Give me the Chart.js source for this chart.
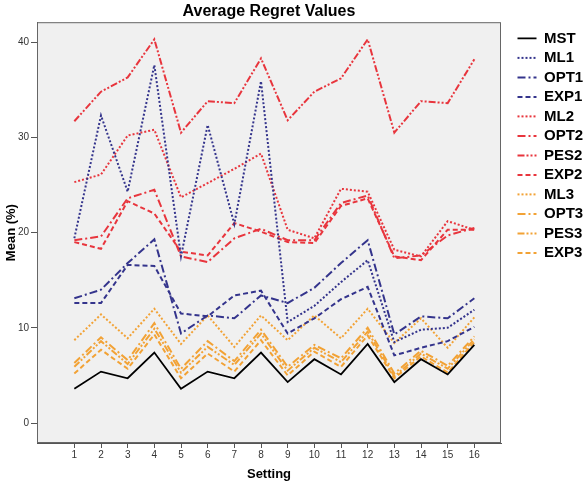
<!DOCTYPE html>
<html>
<head>
<meta charset="utf-8">
<script src="https://cdn.jsdelivr.net/npm/chart.js@4.4.1/dist/chart.umd.min.js"></script>
<style>
  html, body { margin: 0; padding: 0; background: #fff; }
  #wrap { width: 588px; height: 488px; }
</style>
</head>
<body>
<div id="wrap"><canvas id="regretChart" width="588" height="488"></canvas></div>
<script>
var settings = [1, 2, 3, 4, 5, 6, 7, 8, 9, 10, 11, 12, 13, 14, 15, 16];
var yTicks = [0, 10, 20, 30, 40];

var mst  = [3.6, 5.4, 4.7, 7.4, 3.6, 5.4, 4.7, 7.4, 4.3, 6.7, 5.1, 8.3, 4.3, 6.7, 5.1, 8.2];
var ml1  = [19.4, 32.3, 24.3, 37.6, 17.5, 31.3, 20.9, 35.9, 10.6, 12.3, 14.8, 17.1, 8.5, 9.8, 10.0, 11.9];
var opt1 = [13.1, 14.0, 16.8, 19.3, 9.4, 11.3, 11.0, 13.4, 12.6, 14.2, 16.8, 19.2, 9.3, 11.2, 11.0, 13.1];
var exp1 = [12.6, 12.6, 16.6, 16.5, 11.5, 11.2, 13.4, 13.9, 9.4, 11.0, 13.0, 14.3, 7.1, 7.9, 8.6, 10.1];
var ml2  = [25.3, 26.1, 30.2, 30.8, 23.7, 25.2, 26.7, 28.3, 20.3, 19.4, 24.6, 24.3, 18.2, 17.5, 21.2, 20.3];
var opt2 = [19.2, 19.6, 23.6, 24.5, 17.5, 16.9, 19.4, 20.4, 19.2, 19.2, 23.1, 23.9, 17.3, 17.6, 19.7, 20.5];
var pes2 = [31.7, 34.8, 36.3, 40.3, 30.5, 33.8, 33.6, 38.3, 31.8, 34.8, 36.2, 40.3, 30.5, 33.8, 33.6, 38.2];
var exp2 = [19.0, 18.3, 23.3, 22.0, 18.0, 17.6, 21.0, 20.1, 19.0, 18.9, 22.8, 23.6, 17.5, 17.1, 20.3, 20.3];
var ml3  = [8.7, 11.4, 8.9, 12.0, 8.3, 11.3, 8.0, 11.3, 8.7, 11.3, 8.9, 12.0, 8.4, 11.0, 7.9, 11.1];
var opt3 = [6.3, 9.0, 6.6, 10.5, 5.7, 8.6, 6.5, 9.8, 5.9, 8.2, 6.8, 10.0, 5.2, 7.6, 6.0, 9.1];
var pes3 = [5.9, 8.6, 6.2, 9.9, 5.3, 8.0, 6.1, 9.4, 5.5, 7.9, 6.4, 9.6, 4.9, 7.3, 5.7, 8.8];
var exp3 = [5.2, 7.7, 5.7, 9.3, 4.7, 7.3, 5.4, 8.7, 5.0, 7.5, 5.9, 9.2, 4.7, 7.0, 5.3, 8.5];

var FONT = "'Liberation Sans', Arial, sans-serif";
var BLUE = '#34348c', RED = '#e8353d', ORANGE = '#f2a235';
var DOT = [2, 2], DASHDOT = [8, 3, 2, 3], DASHDOTDOT = [7, 2, 2, 2, 2, 2], DASH = [5, 3];

function series(label, values, color, dash, width) {
	return {
		label: label,
		data: settings.map(function (s, i) { return { x: s, y: values[i] }; }),
		borderColor: color,
		backgroundColor: color,
		borderDash: dash,
		borderWidth: width || 2,
		pointRadius: 0,
		tension: 0,
		fill: false,
		yAxisID: 'y'
	};
}

// grey plot area with a frame, like the SPSS output
var plotBackground = {
	id: 'plotBackground',
	beforeDraw: function (chart) {
		var a = chart.chartArea, ctx = chart.ctx;
		ctx.save();
		ctx.fillStyle = '#f0f0f0';
		ctx.fillRect(a.left, a.top, a.right - a.left, a.bottom - a.top);
		ctx.restore();
	},
	beforeDatasetsDraw: function (chart) {
		var a = chart.chartArea, ctx = chart.ctx;
		ctx.save();
		ctx.strokeStyle = '#666';
		ctx.lineWidth = 1;
		ctx.strokeRect(a.left + 0.5, a.top + 0.5, a.right - a.left - 1, a.bottom - a.top - 1);
		ctx.restore();
	}
};

var ctx = document.getElementById('regretChart').getContext('2d');
var regretChart = new Chart(ctx, {
	type: 'line',
	data: {
		datasets: [
			series('MST', mst, '#000', [], 1.8),
			series('ML1', ml1, BLUE, DOT),
			series('OPT1', opt1, BLUE, DASHDOT),
			series('EXP1', exp1, BLUE, DASH),
			series('ML2', ml2, RED, DOT),
			series('OPT2', opt2, RED, DASHDOT),
			series('PES2', pes2, RED, DASHDOTDOT),
			series('EXP2', exp2, RED, DASH),
			series('ML3', ml3, ORANGE, DOT),
			series('OPT3', opt3, ORANGE, DASHDOT),
			series('PES3', pes3, ORANGE, DASHDOTDOT),
			series('EXP3', exp3, ORANGE, DASH)
		]
	},
	options: {
		responsive: false,
		animation: false,
		layout: { padding: 0 },
		scales: {
			x: {
				type: 'linear',
				min: -0.4,
				max: 17,
				afterBuildTicks: function (s) { s.ticks = settings.map(function (v) { return { value: v }; }); },
				grid: { drawOnChartArea: false, tickLength: 5, color: '#555' },
				border: { color: '#555' },
				ticks: { font: { size: 10, family: FONT }, color: '#333', padding: 1, maxRotation: 0, autoSkip: false },
				title: { display: true, text: 'Setting', color: '#000', font: { size: 13, weight: 'bold', family: FONT }, padding: { top: 6, bottom: 6 } },
				afterFit: function (s) { s.height = 45; }
			},
			y: {
				type: 'linear',
				position: 'left',
				min: -2.1,
				max: 42.1,
				afterBuildTicks: function (s) { s.ticks = yTicks.map(function (v) { return { value: v }; }); },
				grid: { drawOnChartArea: false, tickLength: 6, color: '#555' },
				border: { color: '#555' },
				ticks: { font: { size: 10, family: FONT }, color: '#333', padding: 2 },
				title: { display: true, text: 'Mean (%)', color: '#000', font: { size: 13, weight: 'bold', family: FONT }, padding: { top: 4, bottom: 4 } },
				afterFit: function (s) { s.width = 37; }
			},
			// empty spacer between plot and legend
			yR: {
				type: 'linear',
				position: 'right',
				grid: { display: false },
				border: { display: false },
				ticks: { display: false },
				afterFit: function (s) { s.width = 12; }
			}
		},
		plugins: {
			title: {
				display: true,
				text: 'Average Regret Values',
				color: '#000',
				fullSize: false,
				font: { size: 16, weight: 'bold', family: FONT },
				padding: { top: 2, bottom: 1 }
			},
			legend: {
				position: 'right',
				align: 'start',
				fullSize: false,
				maxWidth: 75,
				// blank title just to push the entries down a little
				title: { display: true, text: ' ', font: { size: 1 }, padding: { top: 0, bottom: 3 } },
				labels: {
					usePointStyle: true,
					pointStyle: 'line',
					pointStyleWidth: 19,
					boxHeight: 15,
					padding: 4.5,
					color: '#000',
					font: { size: 15, weight: 'bold', family: FONT },
					generateLabels: function (chart) {
						var items = Chart.defaults.plugins.legend.labels.generateLabels(chart);
						items.forEach(function (it) {
							var ds = chart.data.datasets[it.datasetIndex];
							it.lineDash = ds.borderDash;
							it.strokeStyle = ds.borderColor;
							it.lineWidth = ds.borderWidth;
						});
						return items;
					}
				}
			},
			tooltip: { enabled: false }
		}
	},
	plugins: [plotBackground]
});
</script>
</body>
</html>
